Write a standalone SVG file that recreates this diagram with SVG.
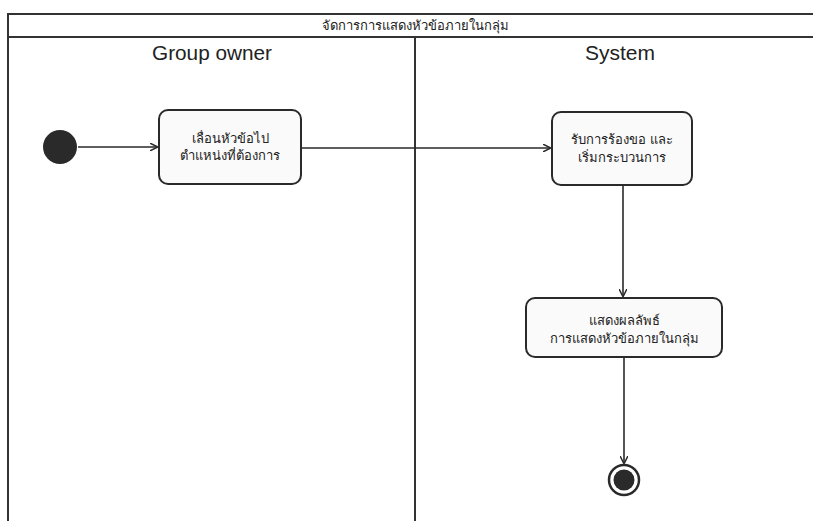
<svg xmlns="http://www.w3.org/2000/svg" width="813" height="521" viewBox="0 0 813 521">
<style>
.frame{fill:none;stroke:#333;stroke-width:2}
.box{fill:#fafafa;stroke:#2a2a2a;stroke-width:2}
.edge{fill:none;stroke:#2a2a2a;stroke-width:1.6}
.th{font-family:"Liberation Sans","Noto Sans",sans-serif;font-size:13px;fill:#222;text-anchor:middle}
.lane{font-family:"Liberation Sans",Arial,sans-serif;font-size:20px;fill:#222;text-anchor:middle}
</style>
<defs>
<marker id="arr" viewBox="0 0 10 10" refX="9" refY="5" markerWidth="8" markerHeight="8" orient="auto" markerUnits="userSpaceOnUse">
<path d="M0,0 L10,5 L0,10" fill="none" stroke="#2a2a2a" stroke-width="1.8"/>
</marker>
</defs>
<rect width="813" height="521" fill="#fff"/>
<g id="frame">
<line class="frame" x1="8" y1="14" x2="813" y2="14"/>
<line class="frame" x1="8" y1="37" x2="813" y2="37"/>
<line class="frame" x1="8" y1="13" x2="8" y2="521"/>
<line class="frame" x1="415" y1="37" x2="415" y2="521"/>
<text class="th" x="415" y="30">จัดการการแสดงหัวข้อภายในกลุ่ม</text>
<text class="lane" x="212" y="60" textLength="120" lengthAdjust="spacingAndGlyphs">Group owner</text>
<text class="lane" x="620" y="60" textLength="70" lengthAdjust="spacingAndGlyphs">System</text>
</g>
<g id="connectors">
<line class="edge" x1="78" y1="147" x2="157" y2="147" marker-end="url(#arr)"/>
<line class="edge" x1="301" y1="148" x2="550" y2="148" marker-end="url(#arr)"/>
<line class="edge" x1="623" y1="185" x2="623" y2="296" marker-end="url(#arr)"/>
<line class="edge" x1="624" y1="357" x2="624" y2="463" marker-end="url(#arr)"/>
</g>
<g id="start"><circle cx="60" cy="147" r="17" fill="#2a2a2a"/></g>
<g id="n1">
<rect class="box" x="159" y="110" width="142" height="74" rx="9"/>
<text class="th" x="230" y="143">เลื่อนหัวข้อไป</text>
<text class="th" x="230" y="160">ตำแหน่งที่ต้องการ</text>
</g>
<g id="n2">
<rect class="box" x="552" y="112" width="140" height="73" rx="9"/>
<text class="th" x="622" y="144">รับการร้องขอ และ</text>
<text class="th" x="622" y="162">เริ่มกระบวนการ</text>
</g>
<g id="n3">
<rect class="box" x="526" y="298" width="196" height="59" rx="9"/>
<text class="th" x="624" y="325">แสดงผลลัพธ์</text>
<text class="th" x="624" y="343">การแสดงหัวข้อภายในกลุ่ม</text>
</g>
<g id="end">
<circle cx="624" cy="480" r="15" fill="#fff" stroke="#2a2a2a" stroke-width="2.5"/>
<circle cx="624" cy="480" r="10.5" fill="#2a2a2a"/>
</g>
</svg>
